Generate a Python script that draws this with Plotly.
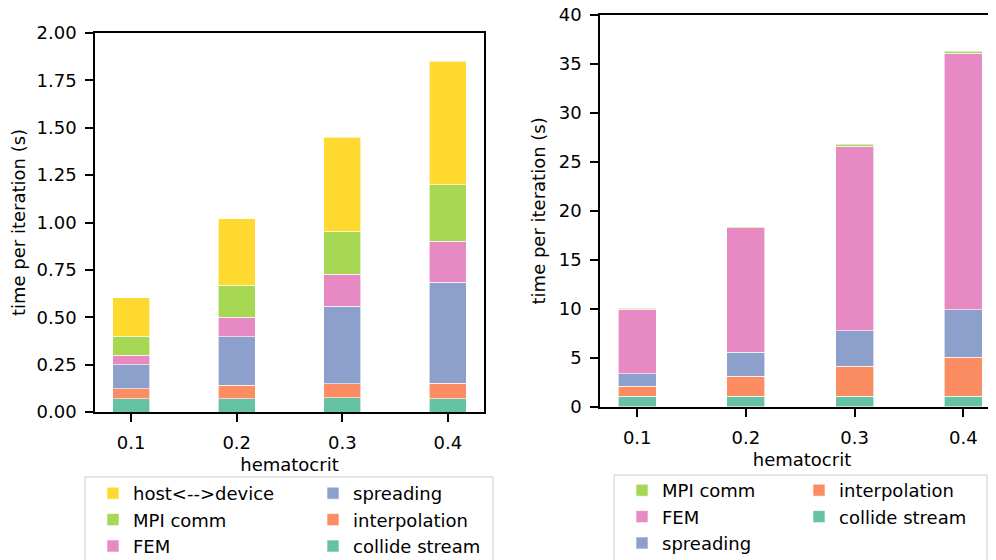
import plotly.graph_objects as go

hematocrit = [0.1, 0.2, 0.3, 0.4]
tick_labels = ["0.1", "0.2", "0.3", "0.4"]

# Left panel (GPU) stacked components, seconds per iteration
gpu_collide = [0.070, 0.070, 0.074, 0.070]
gpu_interp = [0.053, 0.072, 0.076, 0.083]
gpu_spreading = [0.127, 0.256, 0.408, 0.533]
gpu_fem = [0.049, 0.102, 0.170, 0.215]
gpu_mpi = [0.100, 0.168, 0.222, 0.299]
gpu_host = [0.203, 0.352, 0.501, 0.650]

# Right panel (CPU) stacked components
cpu_collide = [1.09, 1.09, 1.09, 1.09]
cpu_interp = [1.02, 2.04, 3.03, 3.98]
cpu_spreading = [1.23, 2.45, 3.64, 4.84]
cpu_fem = [6.60, 12.67, 18.86, 26.18]
cpu_mpi = [0.12, 0.15, 0.17, 0.19]

colors = {
    "collide stream": "#66c2a5",
    "interpolation": "#fc8d62",
    "spreading": "#8da0cb",
    "FEM": "#e78ac3",
    "MPI comm": "#a6d854",
    "host<-->device": "#ffd92f",
}

W, H = 996, 560
OFF = 8  # page body margin offset
FONT = dict(family="DejaVu Sans", size=18, color="black")

fig = go.Figure()

left_series = [
    ("collide stream", gpu_collide, "legend2", 3),
    ("interpolation", gpu_interp, "legend2", 2),
    ("spreading", gpu_spreading, "legend2", 1),
    ("FEM", gpu_fem, "legend", 3),
    ("MPI comm", gpu_mpi, "legend", 2),
    ("host<-->device", gpu_host, "legend", 1),
]
right_series = [
    ("collide stream", cpu_collide, "legend4", 2),
    ("interpolation", cpu_interp, "legend4", 1),
    ("spreading", cpu_spreading, "legend3", 3),
    ("FEM", cpu_fem, "legend3", 2),
    ("MPI comm", cpu_mpi, "legend3", 1),
]

for name, vals, leg, rank in left_series:
    fig.add_trace(go.Bar(
        x=hematocrit, y=vals, name=name, width=0.035,
        marker=dict(color=colors[name], line=dict(color="white", width=0.6)),
        xaxis="x", yaxis="y", legend=leg, legendrank=rank,
    ))
for name, vals, leg, rank in right_series:
    fig.add_trace(go.Bar(
        x=hematocrit, y=vals, name=name, width=0.035,
        marker=dict(color=colors[name], line=dict(color="white", width=0.6)),
        xaxis="x2", yaxis="y2", legend=leg, legendrank=rank,
    ))


def px_x(p):
    return (p - OFF) / W


def px_y(p):
    return (H - (p - OFF)) / H


axis_common = dict(
    showline=True, linecolor="black", linewidth=1.6,
    ticks="outside", ticklen=8, tickwidth=1.6, tickcolor="black",
    showgrid=False, zeroline=False, tickfont=FONT, automargin=False,
    ticklabeloverflow="allow",
)

legend_common = dict(
    orientation="v", traceorder="normal", font=FONT,
    bgcolor="rgba(0,0,0,0)", borderwidth=0,
    xanchor="left", yanchor="top", itemclick=False,
)

# right axis extends slightly past the window edge
right_edge_px = W + OFF
x2_end = 0.06575 + (right_edge_px - 600) * 0.1 / 108.7

fig.update_layout(
    width=W, height=H,
    margin=dict(l=0, r=0, t=0, b=0, autoexpand=False),
    paper_bgcolor="white", plot_bgcolor="white",
    font=FONT, barmode="stack", showlegend=True,
    xaxis=dict(domain=[px_x(95), px_x(484)], range=[0.06575, 0.43425],
               tickvals=hematocrit, ticktext=tick_labels, mirror=True,
               ticklabelstandoff=6,
               title=dict(text="hematocrit", font=FONT, standoff=6),
               anchor="y", **axis_common),
    yaxis=dict(domain=[px_y(412), px_y(33)], range=[0, 2.0],
               tickvals=[0, 0.25, 0.5, 0.75, 1.0, 1.25, 1.5, 1.75, 2.0],
               tickformat=".2f", mirror=True, ticklabelstandoff=5,
               title=dict(text="time per iteration (s)", font=FONT, standoff=8),
               anchor="x", **axis_common),
    xaxis2=dict(domain=[px_x(600), 1.0], range=[0.06575, x2_end],
                tickvals=hematocrit, ticktext=tick_labels, mirror=True,
                ticklabelstandoff=6,
                title=dict(text="hematocrit", font=FONT, standoff=6),
                anchor="y2", **axis_common),
    yaxis2=dict(domain=[px_y(406.7), px_y(15)], range=[0, 40],
                tickvals=[0, 5, 10, 15, 20, 25, 30, 35, 40],
                ticklabelstandoff=5,
                title=dict(text="time per iteration (s)", font=FONT, standoff=8),
                anchor="x2", **axis_common),
    legend=dict(x=px_x(93), y=px_y(475), **legend_common),
    legend2=dict(x=px_x(313), y=px_y(475), **legend_common),
    legend3=dict(x=px_x(622), y=px_y(472), **legend_common),
    legend4=dict(x=px_x(799), y=px_y(472), **legend_common),
)

# legend frames
def frame(x0, y0, x1, y1):
    return dict(type="rect", xref="paper", yref="paper",
                x0=px_x(x0), x1=px_x(x1), y0=px_y(y1), y1=px_y(y0),
                line=dict(color="#cccccc", width=1), fillcolor="rgba(0,0,0,0)", layer="below")

fig.add_shape(**frame(85, 477, 493, 585))
fig.add_shape(**frame(614, 475, 987, 585))

fig.write_html("out.html")
